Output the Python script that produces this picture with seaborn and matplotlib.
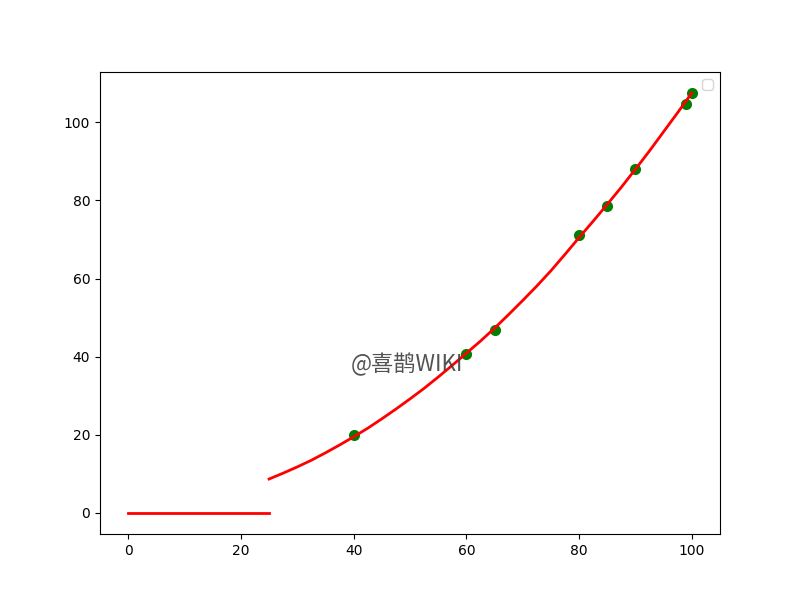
import matplotlib
matplotlib.use("Agg")
import matplotlib.pyplot as plt
import seaborn as sns

# scatter points
pt_x = [40, 60, 65, 80, 85, 90, 99, 100]
pt_y = [20.0, 40.7, 46.8, 71.1, 78.6, 88.0, 104.6, 107.4]

# flat segment
flat_x = [0, 25]
flat_y = [0, 0]

# fitted curve
curve_x = [25, 27.5, 30, 32.5, 35, 37.5, 40, 42.5, 45, 47.5, 50, 52.5, 55, 57.5,
           60, 62.5, 65, 67.5, 70, 72.5, 75, 77.5, 80, 82.5, 85, 87.5, 90, 92.5,
           95, 97.5, 100]
curve_y = [8.7, 10.2, 11.8, 13.5, 15.4, 17.4, 19.5, 21.7, 24.1, 26.6, 29.2, 31.9,
           34.8, 37.8, 40.9, 44.0, 47.3, 50.8, 54.4, 58.1, 62.0, 66.2, 70.5, 74.7,
           79.0, 83.4, 88.0, 92.7, 97.6, 102.5, 107.5]

fig, ax = plt.subplots(figsize=(8, 6), dpi=100)

sns.scatterplot(x=pt_x, y=pt_y, ax=ax, color="green", s=64, edgecolor="green", linewidth=0, zorder=2)
sns.lineplot(x=flat_x, y=flat_y, ax=ax, color="red", linewidth=2, zorder=3)
sns.lineplot(x=curve_x, y=curve_y, ax=ax, color="red", linewidth=2, zorder=3)

ax.legend(loc="upper right")

fig.text(0.509, 0.393, "@喜鹊WIKI", ha="center", va="center", fontsize=16,
         color="#404040", alpha=0.9, family=["Noto Sans CJK SC", "DejaVu Sans"])

fig.savefig("out.png", dpi=100)
